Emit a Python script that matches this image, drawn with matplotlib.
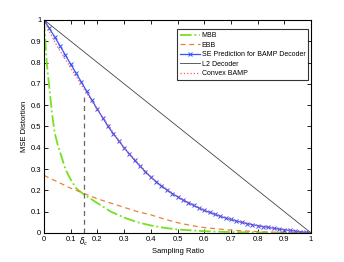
import numpy as np
import matplotlib
matplotlib.use('Agg')
import matplotlib.pyplot as plt

plt.rcParams['font.family'] = ['Liberation Sans', 'DejaVu Sans']
plt.rcParams['mathtext.fontset'] = 'dejavusans'

# SE prediction for BAMP decoder, sampled every 0.02
se_x = [round(0.02 * i, 2) for i in range(51)]
se_y = [1.000, 0.960, 0.920, 0.878, 0.835, 0.792, 0.750, 0.708, 0.664, 0.622,
        0.580, 0.540, 0.500, 0.465, 0.432, 0.400, 0.370, 0.340, 0.313, 0.287,
        0.262, 0.240, 0.220, 0.202, 0.185, 0.170, 0.155, 0.142, 0.129, 0.117,
        0.106, 0.096, 0.087, 0.078, 0.070, 0.063, 0.056, 0.050, 0.044, 0.039,
        0.034, 0.030, 0.026, 0.022, 0.018, 0.015, 0.012, 0.009, 0.006, 0.003,
        0.000]

mbb_x = [0, 0.005, 0.01, 0.02, 0.03, 0.04, 0.05, 0.06, 0.08, 0.10, 0.12, 0.15,
         0.2, 0.25, 0.3, 0.35, 0.4, 0.45, 0.5, 0.6, 0.7, 0.8, 0.9, 1.0]
mbb_y = [1.0, 0.9, 0.8, 0.68, 0.56, 0.47, 0.42, 0.38, 0.30, 0.25, 0.21, 0.18,
         0.14, 0.10, 0.072, 0.05, 0.035, 0.024, 0.016, 0.008, 0.004, 0.002, 0.001, 0.0]

ebb_x = [0, 0.05, 0.1, 0.15, 0.2, 0.25, 0.3, 0.35, 0.4, 0.45, 0.5, 0.55, 0.6,
         0.7, 0.8, 0.9, 1.0]
ebb_y = [0.27, 0.24, 0.21, 0.185, 0.16, 0.14, 0.12, 0.10, 0.085, 0.065, 0.048,
         0.035, 0.025, 0.013, 0.006, 0.002, 0.0]

l2_x = [0, 1]
l2_y = [1, 0]

cvx_x = [0, 0.02, 0.05, 0.1, 0.15, 0.2, 0.3, 0.4, 0.5, 0.6, 0.7, 0.8, 0.9, 1.0]
cvx_y = [1.0, 0.945, 0.875, 0.775, 0.675, 0.578, 0.400, 0.262, 0.170, 0.106,
         0.063, 0.034, 0.015, 0.0]

delta_c = 0.15
delta_c_top = 0.64

xticks = [0, 0.1, 0.15, 0.2, 0.3, 0.4, 0.5, 0.6, 0.7, 0.8, 0.9, 1]
xticklabels = ['0', '0.1', r'$\delta_c$', '0.2', '0.3', '0.4', '0.5', '0.6',
               '0.7', '0.8', '0.9', '1']
yticks = [0, 0.1, 0.2, 0.3, 0.4, 0.5, 0.6, 0.7, 0.8, 0.9, 1]
yticklabels = ['0', '0.1', '0.2', '0.3', '0.4', '0.5', '0.6', '0.7', '0.8', '0.9', '1']

fs = 5.5
fig = plt.figure(figsize=(3.44, 2.62), dpi=100)
ax = fig.add_axes([0.128, 0.111, 0.776, 0.813])

ax.plot(mbb_x, mbb_y, color='#77e020', ls='-.', lw=1.3, label='MBB')
ax.plot(ebb_x, ebb_y, color='#e8823a', ls=(0, (4, 3)), lw=0.9, label='EBB')
ax.plot(se_x, se_y, color='#3355ff', lw=0.9, marker='x', ms=3, mew=0.7,
        label='SE Prediction for BAMP Decoder')
ax.plot(l2_x, l2_y, color='#444444', lw=0.6, label='L2 Decoder')
ax.plot(cvx_x, cvx_y, color='#ff5555', ls=':', lw=0.9, label='Convex BAMP')
ax.plot([delta_c, delta_c], [0, delta_c_top], color='#666666', ls=(0, (4, 3)), lw=0.9)

ax.set_xlim(0, 1)
ax.set_ylim(0, 1)
ax.set_xticks(xticks)
ax.set_xticklabels(xticklabels)
ax.set_yticks(yticks)
ax.set_yticklabels(yticklabels)
ax.tick_params(direction='in', top=True, right=True, labelsize=fs, length=3,
               width=0.6, pad=2)
for s in ax.spines.values():
    s.set_linewidth(0.8)
ax.set_xlabel('Sampling Ratio', fontsize=fs, labelpad=0)
ax.set_ylabel('MSE Distortion', fontsize=fs, labelpad=2)

leg = ax.legend(loc='upper right', bbox_to_anchor=(0.99, 0.955), fontsize=5.0,
                frameon=True, fancybox=False, handlelength=2.8,
                borderpad=0.4, labelspacing=0.35, handletextpad=0.3,
                borderaxespad=0)
leg.get_frame().set_edgecolor('black')
leg.get_frame().set_linewidth(0.8)

fig.savefig('out.png', dpi=100)
